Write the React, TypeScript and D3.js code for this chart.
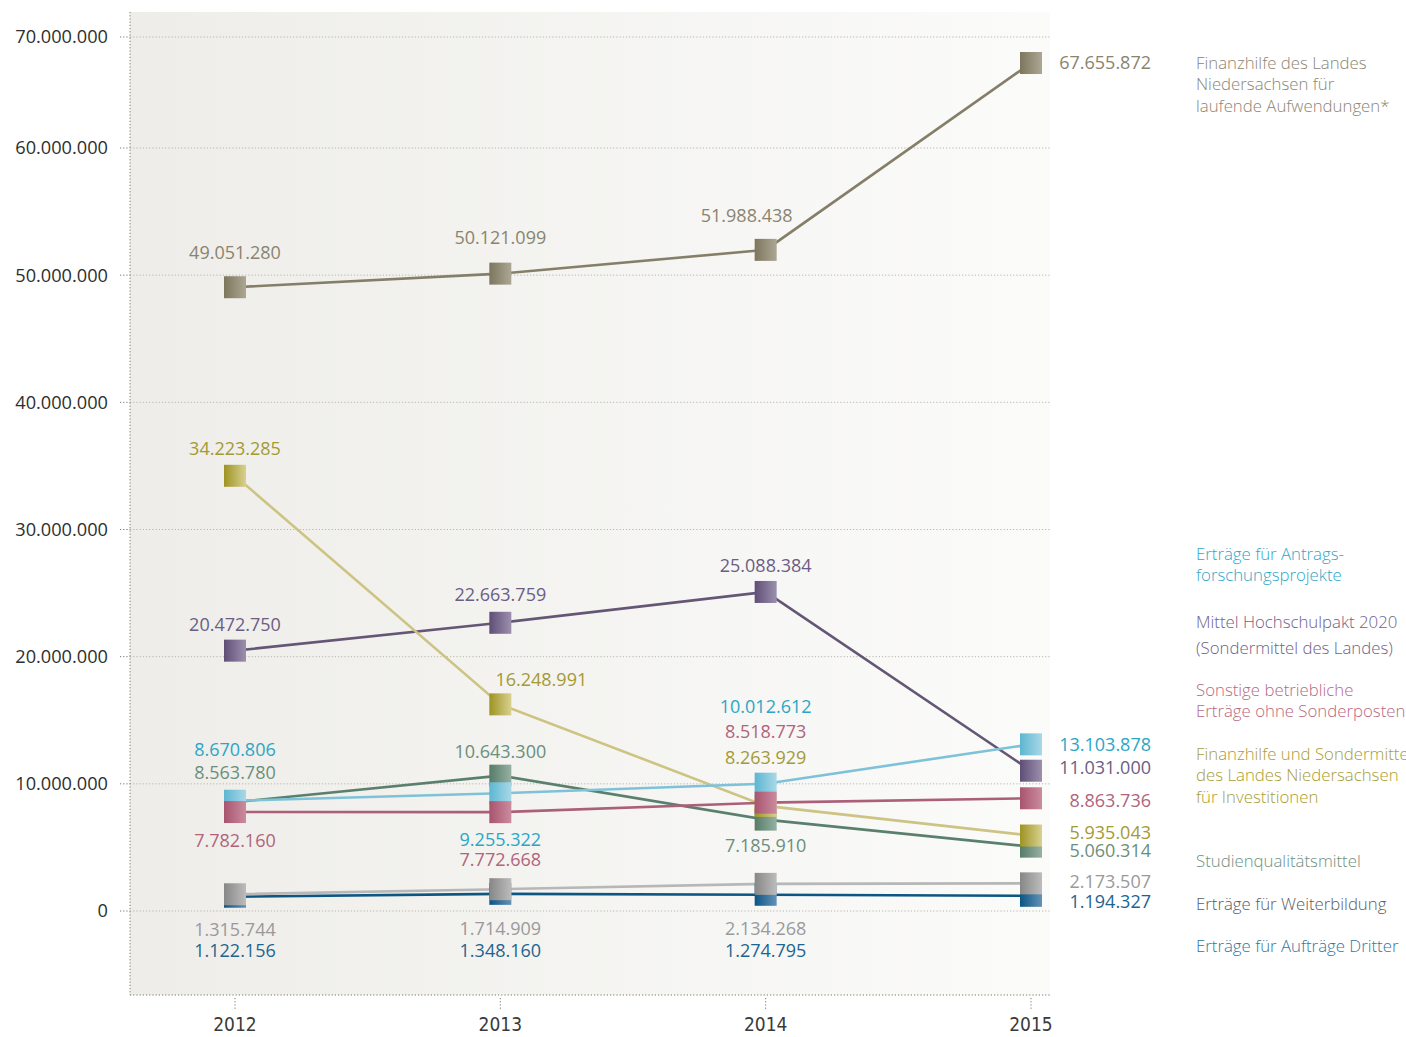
import React from "react";
import * as d3 from "d3";

// Years on the x axis
const years = [2012, 2013, 2014, 2015];

// Revenue series (EUR)
const finanzhilfeLaufend = [49051280, 50121099, 51988438, 67655872];
const finanzhilfeInvest = [34223285, 16248991, 8263929, 5935043];
const hochschulpakt = [20472750, 22663759, 25088384, 11031000];
const antragsforschung = [8670806, 9255322, 10012612, 13103878];
const sonstigeErtraege = [7782160, 7772668, 8518773, 8863736];
const studienqualitaet = [8563780, 10643300, 7185910, 5060314];
const weiterbildung = [1315744, 1714909, 2134268, 2173507];
const auftraegeDritter = [1122156, 1348160, 1274795, 1194327];

// Y axis ticks
const yTicks = [0, 10000000, 20000000, 30000000, 40000000, 50000000, 60000000, 70000000];

// Legend texts (one entry per line)
const legendFinanzhilfeLaufend = ["Finanzhilfe des Landes", "Niedersachsen für", "laufende Aufwendungen*"];
const legendAntrag = ["Erträge für Antrags-", "forschungsprojekte"];
const legendPakt = ["Mittel Hochschulpakt 2020", "(Sondermittel des Landes)"];
const legendSonstige = ["Sonstige betriebliche", "Erträge ohne Sonderposten"];
const legendInvest = ["Finanzhilfe und Sondermittel", "des Landes Niedersachsen", "für Investitionen"];
const legendStudien = ["Studienqualitätsmittel"];
const legendWeiter = ["Erträge für Weiterbildung"];
const legendDritter = ["Erträge für Aufträge Dritter"];

const fmt = (v: number) => d3.format(",")(v).replace(/,/g, ".");

type Series = {
  id: string;
  values: number[];
  legend: string[];
  line: string;
  text: string;
  legendColor: string;
  from: string;
  to: string;
  // label offsets per year, relative to the marker centre
  dy: number[];
  dx: number[];
  legendY: number;
  legendGap: number;
};

// Drawing order: later series sit on top of earlier ones
const series: Series[] = [
  {
    id: "laufend", values: finanzhilfeLaufend, legend: legendFinanzhilfeLaufend,
    line: "#857e68", text: "#8a846f", legendColor: "#8c8672", from: "#7d765d", to: "#aca794",
    dy: [-35, -36, -34, 0], dx: [0, 0, -19, 0], legendY: 63, legendGap: 21.5,
  },
  {
    id: "pakt", values: hochschulpakt, legend: legendPakt,
    line: "#655676", text: "#6c5d84", legendColor: "#6f6188", from: "#5e4e76", to: "#9d90ad",
    dy: [-26, -28, -26, -3], dx: [0, 0, 0, 0], legendY: 622, legendGap: 26,
  },
  {
    id: "studien", values: studienqualitaet, legend: legendStudien,
    line: "#5a806d", text: "#6b8f7c", legendColor: "#6e9181", from: "#567c68", to: "#96b1a3",
    dy: [-29, -24, 26, 4.5], dx: [0, 0, 0, 0], legendY: 861, legendGap: 21.5,
  },
  {
    id: "invest", values: finanzhilfeInvest, legend: legendInvest,
    line: "#cdc383", text: "#a49a35", legendColor: "#a89d33", from: "#9e9322", to: "#d8d190",
    dy: [-27, -25, -48, -3], dx: [0, 41, 0, 0], legendY: 754, legendGap: 21.5,
  },
  {
    id: "antrag", values: antragsforschung, legend: legendAntrag,
    line: "#7ec2d9", text: "#2ba6c6", legendColor: "#2fa7c7", from: "#5db6d1", to: "#a9d8e7",
    dy: [-51, 46, -77, 0], dx: [0, 0, 0, 0], legendY: 554, legendGap: 21.5,
  },
  {
    id: "sonstige", values: sonstigeErtraege, legend: legendSonstige,
    line: "#ab5f78", text: "#b0647c", legendColor: "#b66a82", from: "#a8546e", to: "#cb8c9f",
    dy: [29, 48, -71, 2], dx: [0, 0, 0, 0], legendY: 690, legendGap: 21.5,
  },
  {
    id: "dritter", values: auftraegeDritter, legend: legendDritter,
    line: "#0e5682", text: "#1d6590", legendColor: "#3574a0", from: "#0a5585", to: "#6592b6",
    dy: [54, 57, 56, 5.5], dx: [0, 0, 0, 0], legendY: 946, legendGap: 21.5,
  },
  {
    id: "weiter", values: weiterbildung, legend: legendWeiter,
    line: "#b7b7b7", text: "#9a9a9a", legendColor: "#5c5c5c", from: "#878787", to: "#bcbcbc",
    dy: [35, 40, 45, -1.5], dx: [0, 0, 0, 0], legendY: 904, legendGap: 21.5,
  },
];

const W = 1406;
const H = 1037;
const plot = { left: 130, right: 1050, top: 12, bottom: 995 };
const M = 22; // marker size
const font = "'Open Sans', 'Noto Sans', sans-serif";

const x = d3.scaleLinear().domain([2012, 2015]).range([235, 1031]);
const y = d3.scaleLinear().domain([0, 60000000, 70000000]).range([911, 148, 37]);

const line = d3
  .line<number>()
  .x((_, i) => x(years[i]))
  .y((v) => y(v));

export default function App() {
  return (
    <svg
      width={W}
      height={H}
      style={{ position: "absolute", left: 0, top: 0, background: "#fff" }}
      fontFamily={font}
    >
      <defs>
        <linearGradient id="bg" x1="0" x2="1" y1="0" y2="0">
          <stop offset="0" stopColor="#eeede9" />
          <stop offset="1" stopColor="#fbfbfa" />
        </linearGradient>
        {series.map((s) => (
          <linearGradient key={s.id} id={`m-${s.id}`} x1="0" x2="1" y1="0" y2="0">
            <stop offset="0" stopColor={s.from} />
            <stop offset="1" stopColor={s.to} />
          </linearGradient>
        ))}
      </defs>

      <rect
        x={plot.left}
        y={plot.top}
        width={plot.right - plot.left}
        height={plot.bottom - plot.top}
        fill="url(#bg)"
      />

      {/* grid lines and y ticks */}
      {yTicks.map((t) => (
        <g key={t}>
          <line
            x1={plot.left}
            x2={plot.right}
            y1={y(t)}
            y2={y(t)}
            stroke="#b9b6ac"
            strokeWidth={1}
            strokeDasharray="1.2 2"
          />
          <line
            x1={plot.left - 10}
            x2={plot.left}
            y1={y(t)}
            y2={y(t)}
            stroke="#7a7666"
            strokeWidth={1}
            strokeDasharray="1.2 2"
          />
          <text
            x={108}
            y={y(t)}
            dy="0.35em"
            textAnchor="end"
            fontSize={18.2}
            fill="#2e2e2e"
          >
            {fmt(t)}
          </text>
        </g>
      ))}

      {/* axes */}
      <line
        x1={plot.left}
        x2={plot.left}
        y1={plot.top}
        y2={plot.bottom}
        stroke="#7a7666"
        strokeDasharray="1.2 2"
      />
      <line
        x1={plot.left}
        x2={plot.right}
        y1={plot.bottom}
        y2={plot.bottom}
        stroke="#7a7666"
        strokeDasharray="1.2 2"
      />
      {years.map((yr) => (
        <g key={yr}>
          <line
            x1={x(yr)}
            x2={x(yr)}
            y1={plot.bottom + 3}
            y2={plot.bottom + 14}
            stroke="#7a7666"
            strokeDasharray="1.2 2"
          />
          <text
            x={x(yr)}
            y={1024}
            dy="0.35em"
            textAnchor="middle"
            fontSize={19}
            fill="#3a3a3a"
            fontFamily="'Liberation Sans Narrow', 'DejaVu Sans Condensed', 'Open Sans', sans-serif"
          >
            {yr}
          </text>
        </g>
      ))}

      {/* lines */}
      {series.map((s) => (
        <path
          key={s.id}
          d={line(s.values) || ""}
          fill="none"
          stroke={s.line}
          strokeWidth={2.6}
        />
      ))}

      {/* markers */}
      {series.map((s) =>
        s.values.map((v, i) => (
          <rect
            key={`${s.id}-${i}`}
            x={x(years[i]) - M / 2}
            y={y(v) - M / 2}
            width={M}
            height={M}
            fill={`url(#m-${s.id})`}
          />
        ))
      )}

      {/* value labels */}
      {series.map((s) =>
        s.values.map((v, i) => {
          const last = i === years.length - 1;
          return (
            <text
              key={`l-${s.id}-${i}`}
              x={last ? 1151 : x(years[i]) + s.dx[i]}
              y={y(v) + s.dy[i]}
              dy="0.35em"
              textAnchor={last ? "end" : "middle"}
              fontSize={18}
              fill={s.text}
            >
              {fmt(v)}
            </text>
          );
        })
      )}

      {/* legend */}
      {series.map((s) => (
        <text key={`lg-${s.id}`} fontSize={16.8} fill={s.legendColor} fontWeight={300}>
          {s.legend.map((ln, j) => (
            <tspan key={j} x={1196} y={s.legendY + j * s.legendGap} dy="0.35em">
              {ln}
            </tspan>
          ))}
        </text>
      ))}
    </svg>
  );
}
